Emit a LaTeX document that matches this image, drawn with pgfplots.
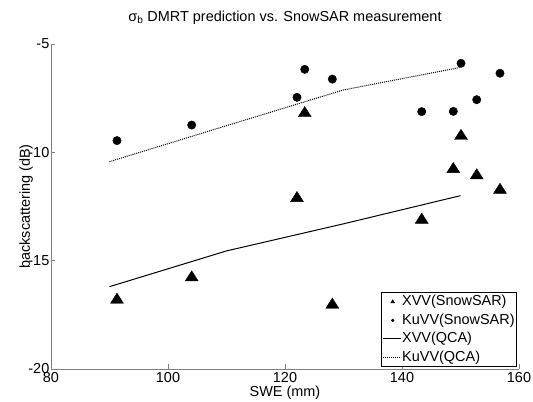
\documentclass[border=0pt]{standalone}
\usepackage{pgfplots}
\pgfplotsset{compat=1.18}
\usepackage{fontspec}
\setmainfont{Liberation Sans}

\pgfplotstableread{
x y
91.28 -16.81
104.05 -15.78
122.05 -12.12
123.37 -8.20
128.09 -17.04
143.37 -13.12
148.77 -10.78
150.09 -9.25
152.77 -11.07
156.75 -11.74
}\xvvmeas

\pgfplotstableread{
x y
91.28 -9.46
104.05 -8.74
122.05 -7.46
123.37 -6.17
128.09 -6.62
143.37 -8.12
148.77 -8.11
150.09 -5.89
152.77 -7.57
156.75 -6.35
}\kuvvmeas

\pgfplotstableread{
x y
90 -16.20
110 -14.55
130 -13.30
150 -12.00
}\xvvqca

\pgfplotstableread{
x y
90 -10.43
110 -8.77
130 -7.12
150 -6.08
}\kuvvqca

\begin{document}
\begin{tikzpicture}
\begin{axis}[
  scale only axis,
  width=468bp, height=325bp,
  xmin=80, xmax=160, ymin=-20, ymax=-5,
  axis lines*=left,
  axis line style={gray, line width=0.9bp},
  tick align=inside,
  major tick length=4.5bp,
  tick style={gray, line width=0.8bp},
  font=\fontsize{14.5}{17}\selectfont,
  xtick={80,100,120,140,160},
  xticklabels={80,100,120,140,160},
  ytick={-20,-15,-10,-5},
  yticklabels={-20,-15,-10,-5},
  xticklabel style={inner sep=0pt, anchor=north, yshift=-3bp},
  yticklabel style={inner sep=0pt, anchor=east, xshift=-1.5bp},
  xlabel={SWE (mm)},
  xlabel style={at={(axis description cs:0.5,0)}, anchor=base, yshift=-27bp},
  ylabel={backscattering (dB)},
  ylabel style={at={(axis description cs:0,0.5)}, anchor=base, yshift=21bp},
  title={σ\textsubscript{b} DMRT prediction vs. SnowSAR measurement},
  title style={at={(axis description cs:0.5,1)}, anchor=base, yshift=17bp},
  legend cell align=left,
  legend style={
    at={(axis description cs:1,0)}, anchor=south east,
    xshift=-2bp, yshift=2bp,
    draw=black, line width=0.8bp,
    inner xsep=1bp, inner ysep=1bp,
    row sep=2bp,
    nodes={text height=11bp, text depth=3.5bp, inner sep=1bp},
    font=\fontsize{14.5}{17}\selectfont,
  },
]
\addplot[only marks, mark=triangle*, mark size=6.8bp, mark options={xscale=1.1, fill=black, draw=black},
  legend image code/.code={\path[draw=none, fill=none] (0,-2bp) rectangle (18bp,2bp);
     \draw[black, fill=black] plot[mark=triangle*, mark size=1.7bp] coordinates {(10bp,0)};}]
  table[x=x,y=y] {\xvvmeas};
\addlegendentry{XVV(SnowSAR)}
\addplot[only marks, mark=*, mark size=4.2bp, mark options={fill=black, draw=black},
  legend image code/.code={\path[draw=none, fill=none] (0,-2bp) rectangle (18bp,2bp);
     \draw[black, fill=black] plot[mark=*, mark size=1.2bp] coordinates {(10bp,0)};}]
  table[x=x,y=y] {\kuvvmeas};
\addlegendentry{KuVV(SnowSAR)}
\addplot[black, line width=1bp, no marks,
  legend image code/.code={\draw[black, line width=1bp] (0,0) -- (18bp,0);}]
  table[x=x,y=y] {\xvvqca};
\addlegendentry{XVV(QCA)}
\addplot[black, line width=1bp, no marks, dash pattern=on 1bp off 1bp,
  legend image code/.code={\draw[black, line width=1bp, dash pattern=on 1bp off 1bp] (0,0) -- (18bp,0);}]
  table[x=x,y=y] {\kuvvqca};
\addlegendentry{KuVV(QCA)}
\end{axis}
\pgfresetboundingbox
\path[use as bounding box] ([xshift=-51bp,yshift=-33bp]current axis.south west) rectangle ([xshift=14bp,yshift=44bp]current axis.north east);
\end{tikzpicture}
\end{document}
